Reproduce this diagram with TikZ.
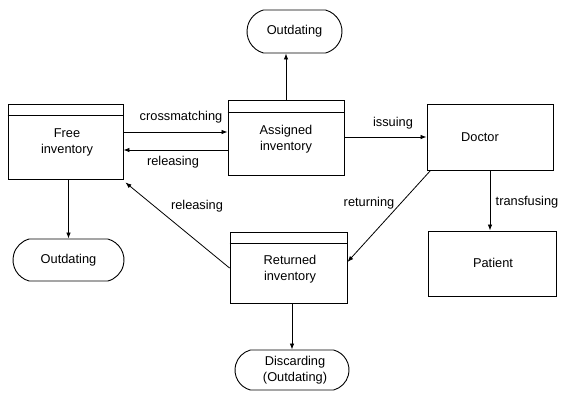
\documentclass[tikz,border=0pt]{standalone}
\usepackage{fontspec}
\setmainfont{Liberation Sans}
\usetikzlibrary{arrows.meta,shapes.misc}
\begin{document}
\begin{tikzpicture}[x=1pt,y=-1pt,
  font=\fontsize{12.8}{16}\selectfont,
  boxnode/.style={draw,line width=0.9pt,rectangle,inner sep=0pt},
  termnode/.style={draw,line width=0.9pt,rounded rectangle,rounded rectangle arc length=150,inner sep=0pt},
  txt/.style={align=center,inner sep=0pt},
  lbl/.style={inner sep=0pt},
  arr/.style={line width=0.8pt,-{Latex[length=6pt,width=4.5pt]}}]
\useasboundingbox (0,0) rectangle (562,392);
% boxes
\node[boxnode,minimum width=115pt,minimum height=75pt] (free) at (65.5,141.5) {};
\node[boxnode,minimum width=116pt,minimum height=75pt] (assigned) at (286,137.5) {};
\node[boxnode,minimum width=117pt,minimum height=71pt] (returned) at (288.5,267.5) {};
\node[boxnode,minimum width=126pt,minimum height=66pt] (doctor) at (490,137) {};
\node[boxnode,minimum width=128pt,minimum height=65pt] (patient) at (492,263.5) {};
\node[termnode,minimum width=95pt,minimum height=43pt] (outtop) at (294.5,31.5) {};
\node[termnode,minimum width=111pt,minimum height=42pt] (outleft) at (68.5,260) {};
\node[termnode,minimum width=114pt,minimum height=40pt] (discard) at (292,370) {};
% header lines
\draw[line width=0.9pt] ([yshift=-12pt]free.north west) -- ([yshift=-12pt]free.north east);
\draw[line width=0.9pt] ([yshift=-13pt]assigned.north west) -- ([yshift=-13pt]assigned.north east);
\draw[line width=0.9pt] ([yshift=-12pt]returned.north west) -- ([yshift=-12pt]returned.north east);
% texts
\node[txt] (tfree) at (67,142.5) {Free\\inventory};
\node[txt] (tassigned) at (286,139) {Assigned\\inventory};
\node[txt] (treturned) at (290,269) {Returned\\inventory};
\node[txt] (tdoctor) at (480,137) {Doctor};
\node[txt] (tpatient) at (493,263) {Patient};
\node[txt] (touttop) at (outtop.center) {Outdating};
\node[txt] (toutleft) at (outleft.center) {Outdating};
\node[txt] (tdiscard) at (295,370) {Discarding\\(Outdating)};
% connectors
\draw[arr] (free.east |- 0,132) -- (assigned.west |- 0,132);
\draw[arr] (assigned.west |- 0,150) -- (free.east |- 0,150);
\draw[arr] (assigned.north) -- (assigned.north |- outtop.south);
\draw[arr] (assigned.east |- 0,137) -- (doctor.west |- 0,137);
\draw[arr] (outleft.north |- free.south) -- (outleft.north);
\draw[arr] (doctor.south) -- (doctor.south |- patient.north);
\draw[arr] ([xshift=4pt]doctor.south west) -- (returned.east |- 0,262);
\draw[arr] (returned.west |- 0,268) -- ([shift={(2pt,-3pt)}]free.south east);
\draw[arr] (discard.north |- returned.south) -- (discard.north);
% labels
\node[lbl] (lcross) at (181,117) {crossmatching};
\node[lbl] (lrel1) at (173,162) {releasing};
\node[lbl] (liss) at (393,123) {issuing};
\node[lbl] (lrel2) at (197,206) {releasing};
\node[lbl] (lret) at (369,203) {returning};
\node[lbl] (ltrans) at (527,202) {transfusing};
\end{tikzpicture}
\end{document}
